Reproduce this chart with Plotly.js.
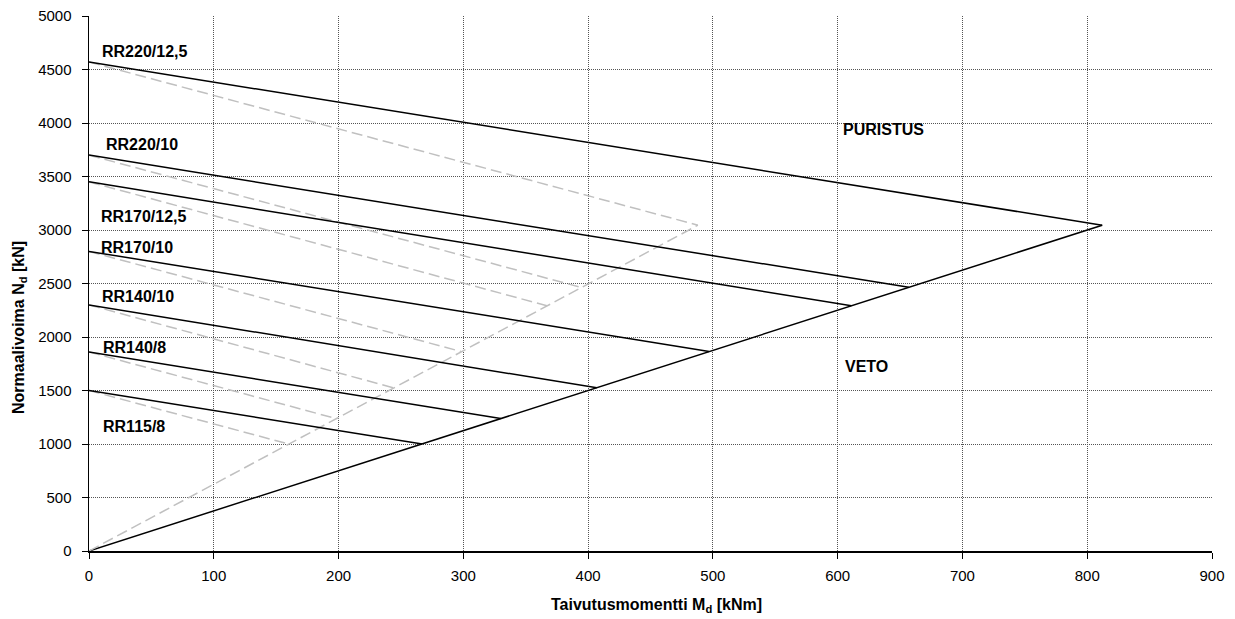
<!DOCTYPE html>
<html>
<head>
<meta charset="utf-8">
<script src="https://cdn.plot.ly/plotly-3.0.1.min.js"></script>
<style>
  html, body { margin: 0; padding: 0; background: #fff; }
  #chart { width: 1235px; height: 619px; }
</style>
</head>
<body>
<div id="chart"></div>
<script>
// Interaction curves for rectangular hollow sections (RR)
const sections = ["RR220/12,5", "RR220/10", "RR170/12,5", "RR170/10", "RR140/10", "RR140/8", "RR115/8"];
// Pure compression capacity N_d [kN] at M = 0
const nAxial = [4570, 3700, 3450, 2800, 2300, 1860, 1500];
// Bending moment capacity M_d [kNm] at the tension branch
const mEnd = [812, 657, 611, 497, 407, 330, 267];
// Normal force [kN] where each section meets the tension branch
const nEnd = [3045, 2465, 2292, 1865, 1525, 1238, 1000];
// Reduced moment capacities (dashed grey curves)
const mEndReduced = [488, 394, 367, 298, 244, 198, 160];

// Label positions for section names
const labelX = [9, 12, 8, 8, 9, 10, 10];
const labelY = [4665, 3795, 3130, 2835, 2375, 1900, 1168];

const FONT = "Liberation Sans, Arial, sans-serif";
const traces = [];

// Tension branch (solid) through all section end points
traces.push({
  x: [0].concat(mEnd.slice().reverse()),
  y: [0].concat(nEnd.slice().reverse()),
  mode: "lines", line: { color: "#000", width: 1.5 }, hoverinfo: "skip"
});
// Tension branch (dashed, reduced)
traces.push({
  x: [0].concat(mEndReduced.slice().reverse()),
  y: [0].concat(nEnd.slice().reverse()),
  mode: "lines", line: { color: "#c0c0c0", width: 1.5, dash: "11px,5px" }, hoverinfo: "skip"
});

sections.forEach((s, i) => {
  traces.push({
    x: [0, mEndReduced[i]], y: [nAxial[i], nEnd[i]],
    mode: "lines", name: s + " red.",
    line: { color: "#c0c0c0", width: 1.5, dash: "11px,5px" }
  });
});
sections.forEach((s, i) => {
  traces.push({
    x: [0, mEnd[i]], y: [nAxial[i], nEnd[i]],
    mode: "lines", name: s,
    line: { color: "#000", width: 1.5 }
  });
});

const boldFont = { family: FONT, size: 16, color: "#000" };
const annotations = sections.map((s, i) => ({
  x: labelX[i], y: labelY[i], xref: "x", yref: "y",
  text: "<b>" + s + "</b>", showarrow: false,
  xanchor: "left", yanchor: "middle", font: boldFont
}));
annotations.push({
  x: 603, y: 3935, xref: "x", yref: "y", text: "<b>PURISTUS</b>", showarrow: false,
  xanchor: "left", yanchor: "middle", font: boldFont
});
annotations.push({
  x: 604, y: 1729, xref: "x", yref: "y", text: "<b>VETO</b>", showarrow: false,
  xanchor: "left", yanchor: "middle", font: boldFont
});
// Axis titles, placed as paper annotations
annotations.push({
  xref: "paper", yref: "paper",
  x: (656 - 89) / (1212 - 89), y: -(605 - 551) / (551 - 16),
  xanchor: "center", yanchor: "middle", showarrow: false,
  text: "<b>Taivutusmomentti M<sub>d</sub> [kNm]</b>", font: boldFont
});
annotations.push({
  xref: "paper", yref: "paper",
  x: -(89 - 19) / (1212 - 89), y: (551 - 328) / (551 - 16),
  xanchor: "center", yanchor: "middle", showarrow: false, textangle: -90,
  text: "<b>Normaalivoima N<sub>d</sub> [kN]</b>", font: boldFont
});

const layout = {
  width: 1235, height: 619,
  margin: { l: 89, r: 23, t: 16, b: 68 },
  paper_bgcolor: "#fff", plot_bgcolor: "#fff",
  showlegend: false,
  font: { family: FONT, size: 15, color: "#000" },
  xaxis: {
    range: [0, 900], dtick: 100, tick0: 0,
    showgrid: true, gridcolor: "#555", gridwidth: 1, griddash: "1px,1px",
    zeroline: false, showline: true, linecolor: "#000", linewidth: 1.5,
    ticks: "outside", ticklen: 6, tickcolor: "#000", ticklabelstandoff: 4
  },
  yaxis: {
    range: [0, 5000], dtick: 500, tick0: 0,
    showgrid: true, gridcolor: "#555", gridwidth: 1, griddash: "1px,1px",
    zeroline: false, showline: true, linecolor: "#000", linewidth: 1.5,
    ticks: "outside", ticklen: 6, tickcolor: "#000", ticklabelstandoff: 7
  },
  annotations: annotations
};

Plotly.newPlot("chart", traces, layout, { displayModeBar: false, staticPlot: true });
</script>
</body>
</html>
